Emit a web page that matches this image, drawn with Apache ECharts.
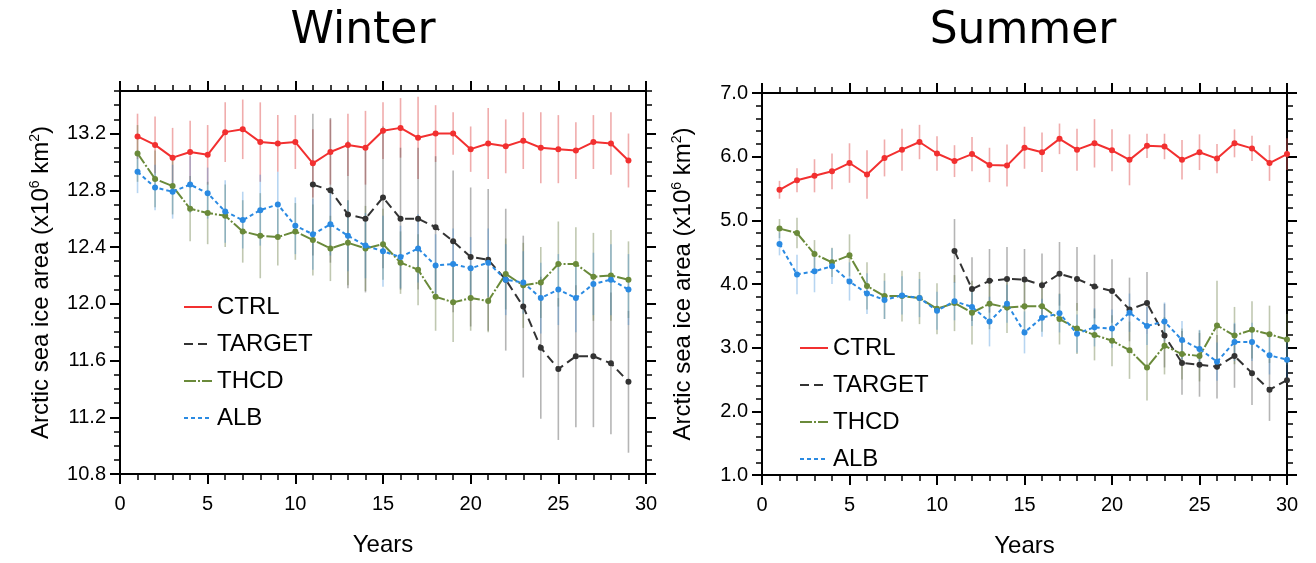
<!DOCTYPE html>
<html><head><meta charset="utf-8">
<script src="https://cdn.jsdelivr.net/npm/echarts@6/dist/echarts.min.js"></script>
<style>html,body{margin:0;padding:0;background:#fff}#c{width:1316px;height:563px}</style>
</head><body><div id="c"></div>
<script>
// ---------- DATA ----------
const years = [1,2,3,4,5,6,7,8,9,10,11,12,13,14,15,16,17,18,19,20,21,22,23,24,25,26,27,28,29,30];

// Winter (years 1..29)
const ctrlW   = [13.18,13.12,13.03,13.07,13.05,13.21,13.23,13.14,13.13,13.14,12.99,13.07,13.12,13.10,13.22,13.24,13.17,13.20,13.20,13.09,13.13,13.11,13.15,13.10,13.09,13.08,13.14,13.13,13.01];
const ctrlWErr= [0.16,0.20,0.21,0.22,0.21,0.21,0.21,0.28,0.20,0.19,0.24,0.23,0.22,0.26,0.20,0.21,0.29,0.20,0.15,0.16,0.25,0.19,0.20,0.25,0.24,0.20,0.19,0.22,0.19];
const targetW = [null,null,null,null,null,null,null,null,null,null,12.84,12.80,12.63,12.60,12.75,12.60,12.60,12.54,12.44,12.33,12.31,12.17,11.98,11.69,11.54,11.63,11.63,11.58,11.45];
const targetWErr=[null,null,null,null,null,null,null,null,null,null,0.50,0.51,0.52,0.52,0.50,0.50,0.50,0.50,0.50,0.49,0.50,0.50,0.50,0.50,0.50,0.50,0.50,0.50,0.50];
const thcdW   = [13.06,12.88,12.83,12.67,12.64,12.62,12.51,12.48,12.47,12.51,12.45,12.39,12.43,12.39,12.42,12.29,12.24,12.05,12.01,12.04,12.02,12.21,12.13,12.15,12.28,12.28,12.19,12.20,12.17];
const thcdWErr= [0.20,0.20,0.20,0.23,0.22,0.22,0.22,0.30,0.20,0.20,0.25,0.23,0.30,0.30,0.25,0.22,0.25,0.24,0.28,0.23,0.22,0.25,0.30,0.25,0.30,0.26,0.31,0.32,0.27];
const albW    = [12.93,12.82,12.79,12.84,12.78,12.65,12.59,12.66,12.70,12.55,12.49,12.56,12.48,12.41,12.37,12.33,12.39,12.27,12.28,12.25,12.29,12.17,12.15,12.04,12.10,12.04,12.14,12.17,12.10];
const albWErr = [0.15,0.16,0.19,0.20,0.18,0.22,0.20,0.25,0.23,0.20,0.25,0.22,0.25,0.23,0.25,0.22,0.24,0.22,0.25,0.22,0.24,0.25,0.22,0.25,0.25,0.24,0.22,0.25,0.25];

// Summer (years 1..30)
const ctrlS   = [5.48,5.63,5.70,5.77,5.90,5.72,5.98,6.11,6.23,6.05,5.93,6.04,5.87,5.86,6.14,6.07,6.28,6.11,6.21,6.10,5.95,6.17,6.16,5.95,6.07,5.97,6.21,6.13,5.90,6.04];
const ctrlSErr= [0.14,0.19,0.26,0.28,0.31,0.38,0.29,0.33,0.27,0.27,0.25,0.27,0.27,0.33,0.33,0.31,0.24,0.33,0.38,0.33,0.40,0.19,0.20,0.31,0.28,0.23,0.22,0.20,0.28,0.25];
const targetS = [null,null,null,null,null,null,null,null,null,null,4.52,3.92,4.05,4.08,4.07,3.98,4.16,4.08,3.96,3.89,3.60,3.70,3.19,2.76,2.73,2.70,2.87,2.60,2.34,2.49];
const targetSErr=[null,null,null,null,null,null,null,null,null,null,0.50,0.50,0.50,0.50,0.48,0.50,0.50,0.50,0.50,0.50,0.50,0.49,0.50,0.50,0.50,0.50,0.50,0.50,0.49,0.50];
const thcdS   = [4.87,4.80,4.47,4.34,4.45,3.97,3.81,3.81,3.78,3.61,3.70,3.55,3.69,3.63,3.65,3.65,3.45,3.30,3.20,3.11,2.96,2.69,3.03,2.90,2.87,3.35,3.19,3.28,3.21,3.13];
const thcdSErr= [0.15,0.24,0.22,0.23,0.33,0.37,0.36,0.40,0.41,0.40,0.44,0.50,0.40,0.40,0.40,0.40,0.40,0.40,0.40,0.40,0.45,0.52,0.45,0.40,0.40,0.70,0.45,0.45,0.45,0.40];
const albS    = [4.63,4.15,4.20,4.28,4.04,3.85,3.75,3.82,3.78,3.58,3.73,3.64,3.41,3.69,3.24,3.47,3.54,3.22,3.32,3.30,3.55,3.34,3.41,3.12,2.98,2.78,3.09,3.09,2.88,2.81];
const albSErr = [0.18,0.31,0.33,0.28,0.30,0.32,0.30,0.30,0.30,0.30,0.30,0.30,0.39,0.30,0.33,0.30,0.30,0.30,0.30,0.30,0.30,0.30,0.30,0.30,0.30,0.30,0.30,0.30,0.30,0.30];

const yTicksW = [10.8,11.2,11.6,12.0,12.4,12.8,13.2];
const seriesNames = ['CTRL','TARGET','THCD','ALB'];
const titles = ['Winter','Summer'];
const yName = '{a|Arctic sea ice area (x10}{s|6}{a| km}{s|2}{a|)}';

// ---------- STYLE ----------
const colors = {CTRL:'#f23030', TARGET:'#333333', THCD:'#6a8a3a', ALB:'#2a8ae2'};
const barColors = {CTRL:'rgba(225,90,90,0.5)', TARGET:'rgba(70,70,70,0.4)', THCD:'rgba(105,125,70,0.42)', ALB:'rgba(50,135,215,0.35)'};
const dashes = {CTRL:'solid', TARGET:[9,5], THCD:[12,2,2,2], ALB:[4,3]};
const FONT = 'Liberation Sans, Arial, sans-serif';
const LBL = 20;

function pts(vals){ const out=[]; vals.forEach((v,i)=>{ if(v!=null) out.push([years[i], v]); }); return out; }
function errs(vals, e){ const out=[]; vals.forEach((v,i)=>{ if(v!=null) out.push([years[i], v-e[i], v+e[i]]); }); return out; }
function errRender(params, api){
  const x = api.value(0);
  const p1 = api.coord([x, api.value(1)]), p2 = api.coord([x, api.value(2)]);
  return {type:'line', shape:{x1:p1[0], y1:p1[1], x2:p2[0], y2:p2[1]},
          style:{stroke: api.visual('color'), lineWidth: 1.6}};
}

const axisLine = {show:true, onZero:false, lineStyle:{color:'#000', width:2}};
const majorTick = {show:true, length:10, lineStyle:{color:'#000', width:2}};
const minorTick = {show:true, length:6, lineStyle:{color:'#000', width:1.5}};
function xAxisDef(grid, pos){
  return {gridIndex:grid, type:'value', position:pos, min:0, max:30, interval:5,
    axisLine, axisTick:majorTick,
    minorTick:Object.assign({splitNumber:5}, minorTick),
    splitLine:{show:false}, minorSplitLine:{show:false},
    axisLabel:{show: pos==='bottom', margin:20, fontSize:LBL, color:'#000', fontFamily:FONT},
    name: pos==='bottom' ? 'Years' : '', nameLocation:'middle', nameGap:59,
    nameTextStyle:{fontSize:24, color:'#000', fontFamily:FONT}};
}
const yNameStyle = {color:'#000', fontFamily:FONT,
  rich:{a:{fontSize:24, lineHeight:26, fontFamily:FONT, color:'#000'},
        s:{fontSize:14, lineHeight:14, verticalAlign:'top', fontFamily:FONT, color:'#000'}}};

const rectW = {left:120, top:91, width:526, height:383};
const rectS = {left:762, top:93, width:525, height:383};

const xAxis = [xAxisDef(0,'bottom'), xAxisDef(0,'top'), xAxisDef(1,'bottom'), xAxisDef(1,'top'),
  {gridIndex:2, type:'value', min:0, max:30, show:false}];
const yAxis = [];
// Winter: minor ticks (grid 0), axis indices 0 (left), 1 (right)
['left','right'].forEach(pos=>{
  yAxis.push({gridIndex:0, type:'value', position:pos, min:10.8, max:13.5, interval:0.1,
    axisLine, axisTick:minorTick, splitLine:{show:false}, axisLabel:{show:false}});
});
// Summer: indices 2 (left), 3 (right)
['left','right'].forEach(pos=>{
  yAxis.push({gridIndex:1, type:'value', position:pos, min:1, max:7, interval:1,
    axisLine, axisTick:majorTick,
    minorTick:Object.assign({splitNumber:5}, minorTick),
    splitLine:{show:false}, minorSplitLine:{show:false},
    axisLabel:{show: pos==='left', margin:14, fontSize:LBL, color:'#000', fontFamily:FONT, formatter:v=>Number(v).toFixed(1)},
    name: pos==='left' ? yName : '', nameLocation:'middle', nameRotate:90, nameGap:66, nameTextStyle:yNameStyle});
});
// Winter: major ticks + labels on an overlaid grid 2, indices 4 (left), 5 (right)
['left','right'].forEach(pos=>{
  yAxis.push({gridIndex:2, type:'value', position:pos, min:10.8, max:13.5, interval:0.4,
    axisLine:{show:false}, axisTick:Object.assign({customValues:yTicksW}, majorTick),
    splitLine:{show:false},
    axisLabel:{show: pos==='left', customValues:yTicksW, margin:14, fontSize:LBL, color:'#000', fontFamily:FONT,
      formatter:v=> Math.abs(v-13.5)<1e-6 ? '' : Number(v).toFixed(1)},
    name: pos==='left' ? yName : '', nameLocation:'middle', nameRotate:90, nameGap:66, nameTextStyle:yNameStyle});
});

const panels = [
  {x:0, y:0, data:{CTRL:[ctrlW,ctrlWErr], TARGET:[targetW,targetWErr], THCD:[thcdW,thcdWErr], ALB:[albW,albWErr]}},
  {x:2, y:2, data:{CTRL:[ctrlS,ctrlSErr], TARGET:[targetS,targetSErr], THCD:[thcdS,thcdSErr], ALB:[albS,albSErr]}}
];
const series = [];
panels.forEach(p=>{
  seriesNames.forEach(n=>{
    series.push({type:'custom', xAxisIndex:p.x, yAxisIndex:p.y, renderItem:errRender,
      itemStyle:{color:barColors[n]}, encode:{x:0, y:[1,2]}, data:errs(p.data[n][0], p.data[n][1]),
      z:1, silent:true, clip:false});
  });
  seriesNames.forEach(n=>{
    series.push({type:'line', name:n, xAxisIndex:p.x, yAxisIndex:p.y, data:pts(p.data[n][0]),
      symbol:'circle', symbolSize:6, showSymbol:true,
      itemStyle:{color:colors[n]}, lineStyle:{color:colors[n], width:2, type:dashes[n]},
      z:3, animation:false});
  });
});

const legendBase = {orient:'vertical', data:seriesNames, itemWidth:28, itemHeight:12, itemGap:13, padding:0,
  itemStyle:{opacity:0}, lineStyle:{width:2},
  textStyle:{fontSize:24, lineHeight:24, color:'#000', fontFamily:FONT}, selectedMode:false};

const option = {
  animation:false,
  backgroundColor:'#fff',
  grid:[rectW, rectS, rectW],
  xAxis, yAxis, series,
  legend:[Object.assign({left:183, top:295}, legendBase), Object.assign({left:799, top:336}, legendBase)],
  graphic:[
    {type:'text', x:363, y:32, style:{text:titles[0], font:'44px "DejaVu Sans"', fill:'#000', textAlign:'center', textVerticalAlign:'middle'}},
    {type:'text', x:1023, y:32, style:{text:titles[1], font:'44px "DejaVu Sans"', fill:'#000', textAlign:'center', textVerticalAlign:'middle'}}
  ]
};
const chart = echarts.init(document.getElementById('c'), null, {renderer:'canvas'});
chart.setOption(option);
</script></body></html>
